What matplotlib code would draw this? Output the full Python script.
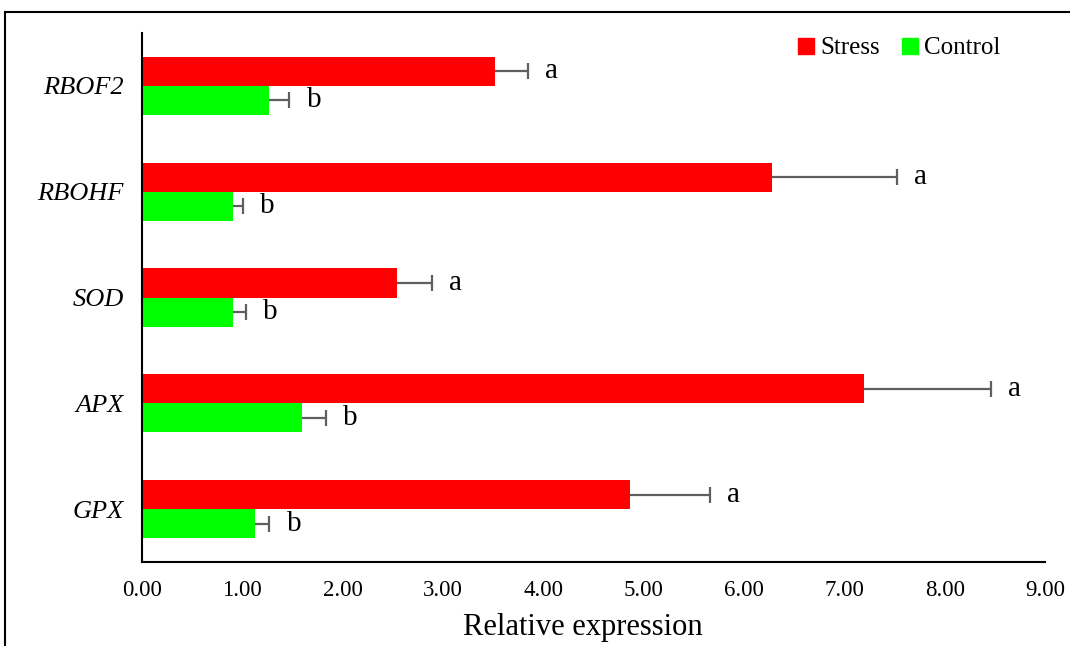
import numpy as np
import matplotlib.pyplot as plt
from matplotlib.lines import Line2D

genes = ["RBOF2", "RBOHF", "SOD", "APX", "GPX"]
stress = [3.52, 6.28, 2.54, 7.20, 4.86]
stress_err = [0.33, 1.24, 0.35, 1.26, 0.80]
control = [1.27, 0.91, 0.91, 1.59, 1.13]
control_err = [0.20, 0.10, 0.13, 0.24, 0.14]
stress_letters = ["a", "a", "a", "a", "a"]
control_letters = ["b", "b", "b", "b", "b"]
xticks = [0, 1, 2, 3, 4, 5, 6, 7, 8, 9]

plt.rcParams["font.family"] = "Liberation Serif"

fig = plt.figure(figsize=(10.7, 6.46), dpi=100)
ax = fig.add_axes([142 / 1070, 84 / 646, 903 / 1070, 529 / 646])

# genes listed top to bottom
y = np.arange(len(genes))[::-1]
h = 0.275

ax.barh(y + h / 2, stress, height=h, color="#ff0000", label="Stress")
ax.barh(y - h / 2, control, height=h, color="#00ff00", label="Control")

# one-sided error bars: line from bar end plus a cap at the tip only
for vals, errs, yy in [(stress, stress_err, y + h / 2), (control, control_err, y - h / 2)]:
    vals = np.array(vals)
    ends = vals + np.array(errs)
    ax.hlines(yy, vals, ends, color="#5f5f5f", lw=1.6)
    ax.plot(ends, yy, ls="none", marker="|", markersize=12, mew=1.6, color="#5f5f5f")

for i in range(len(genes)):
    ax.text(stress[i] + stress_err[i] + 0.17, y[i] + h / 2, stress_letters[i],
            ha="left", va="center", fontsize=21)
    ax.text(control[i] + control_err[i] + 0.17, y[i] - h / 2, control_letters[i],
            ha="left", va="center", fontsize=21)

ax.set_xlim(0, 9)
ax.set_ylim(-0.5, 4.5)
ax.set_xticks(xticks)
ax.set_xticklabels([f"{t:.2f}" for t in xticks], fontsize=16.5)
ax.set_yticks(y)
ax.set_yticklabels(genes, fontsize=19, style="italic")
ax.tick_params(axis="x", length=0, pad=13)
ax.tick_params(axis="y", length=0, pad=13)
ax.set_xlabel("Relative expression", fontsize=22, va="center")
ax.xaxis.set_label_coords(0.488, -0.124)

for s in ["top", "right"]:
    ax.spines[s].set_visible(False)
ax.spines["left"].set_linewidth(1.5)
ax.spines["bottom"].set_linewidth(1.5)

handles = [Line2D([], [], marker="s", color="none", markerfacecolor="#ff0000",
                  markeredgecolor="#ff0000", markersize=11),
           Line2D([], [], marker="s", color="none", markerfacecolor="#00ff00",
                  markeredgecolor="#00ff00", markersize=11)]
ax.legend(handles, ["Stress", "Control"], loc="upper right", ncol=2, frameon=False,
          fontsize=18, handlelength=0.6, handletextpad=0.25, columnspacing=0.9,
          bbox_to_anchor=(0.975, 1.035))

# outer frame (top and left edges visible)
fig.add_artist(Line2D([5 / 1070, 1], [1 - 12 / 646, 1 - 12 / 646], color="black", lw=1.5))
fig.add_artist(Line2D([5 / 1070, 5 / 1070], [0, 1 - 12 / 646], color="black", lw=1.5))

fig.savefig("out.png", dpi=100)
